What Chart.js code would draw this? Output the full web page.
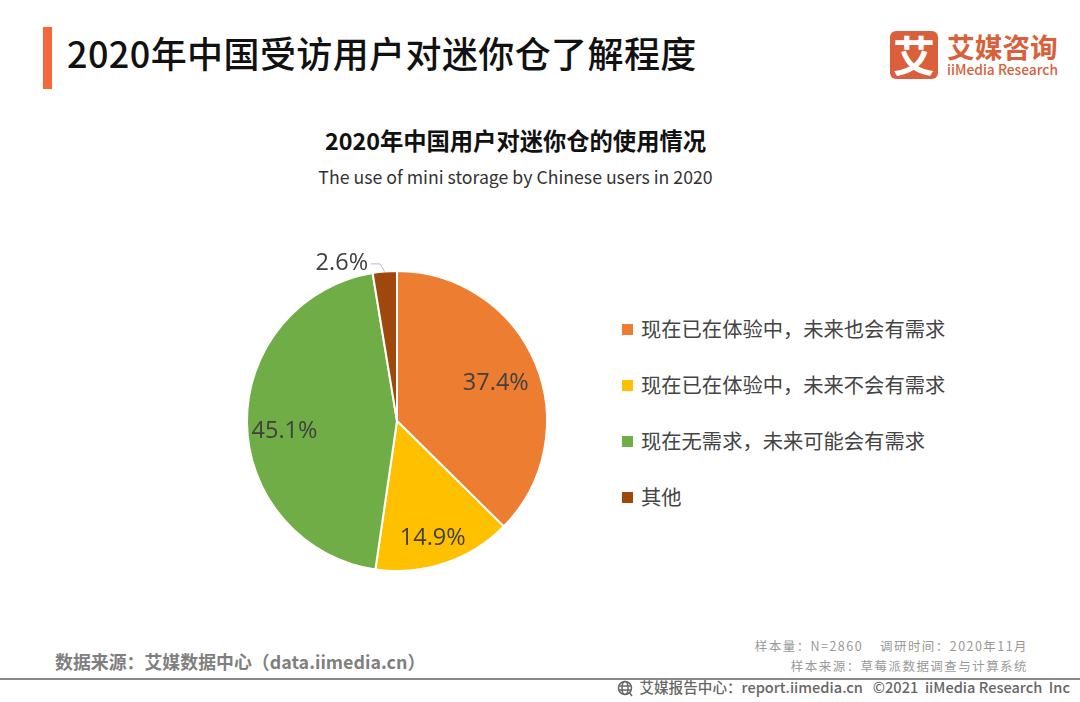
<!DOCTYPE html>
<html lang="zh-CN">
<head>
<meta charset="UTF-8">
<title>2020年中国受访用户对迷你仓了解程度</title>
<script src="https://cdn.jsdelivr.net/npm/chart.js"></script>
<style>
  html, body { margin: 0; padding: 0; background: #fff; }
  body { width: 1080px; height: 702px; position: relative; overflow: hidden; font-family: "Noto Sans CJK SC", "Noto Sans", sans-serif; }
  .t { position: absolute; white-space: nowrap; line-height: 1; }
  #bar { position: absolute; left: 43px; top: 27px; width: 9px; height: 62px; background: #F4683A; }
  #title { left: 67px; top: 34px; font-size: 36px; font-weight: 500; color: #111; letter-spacing: .4px; }
  #sub1 { left: 0; width: 1031px; text-align: center; top: 129px; font-size: 23.3px; font-weight: 700; color: #111; }
  #sub2 { left: 0; width: 1031px; text-align: center; top: 168px; font-size: 17.7px; color: #333; }
  #logoBox { position: absolute; left: 890px; top: 31px; width: 48px; height: 48px; border-radius: 6px; background: #D9603B; color: #fff; font-size: 42px; font-weight: 700; line-height: 46px; text-align: center; }
  #logoCn { left: 947px; top: 33px; font-size: 27.7px; font-weight: 700; color: #D9603B; }
  #logoEn { left: 947px; top: 63px; font-size: 13.8px; font-weight: 500; color: #D9603B; }
  #chartBox { position: absolute; left: 197px; top: 220.5px; width: 400px; height: 400px; }
  .lg { position: absolute; left: 622px; height: 20px; }
  .lg i { position: absolute; left: 0; top: 5px; width: 11px; height: 11px; }
  .lg span { position: absolute; left: 19px; top: -1px; font-size: 20.3px; line-height: 20px; color: #444; white-space: nowrap; }
  #source { left: 55px; top: 653px; font-size: 17.9px; font-weight: 700; color: #7f7f7f; }
  #meta1 { right: 52px; top: 640px; font-size: 12.5px; color: #999; letter-spacing: 1.45px; white-space: pre; }
  #meta2 { right: 52px; top: 660px; font-size: 12.5px; color: #999; letter-spacing: 1.45px; }
  #rule { position: absolute; left: 0; top: 678px; width: 1080px; height: 2px; background: #888; }
  #foot { right: 10px; top: 680px; font-size: 14.6px; font-weight: 500; color: #666; white-space: pre; }
  #globe { position: absolute; left: 617px; top: 680px; width: 17px; height: 17px; }
</style>
</head>
<body>
<div id="bar"></div>
<div class="t" id="title">2020年中国受访用户对迷你仓了解程度</div>
<div id="logoBox">艾</div>
<div class="t" id="logoCn">艾媒咨询</div>
<div class="t" id="logoEn">iiMedia Research</div>
<div class="t" id="sub1">2020年中国用户对迷你仓的使用情况</div>
<div class="t" id="sub2">The use of mini storage by Chinese users in 2020</div>
<div id="chartBox"><canvas id="pie"></canvas></div>
<div id="legend"></div>
<div class="t" id="source">数据来源：艾媒数据中心（data.iimedia.cn）</div>
<div class="t" id="meta1">样本量：N=2860    调研时间：2020年11月</div>
<div class="t" id="meta2">样本来源：草莓派数据调查与计算系统</div>
<div id="rule"></div>
<svg id="globe" viewBox="0 0 17 17" fill="none" stroke="#666" stroke-width="1.5">
  <circle cx="8" cy="8" r="6.5"/><ellipse cx="8" cy="8" rx="3" ry="6.5"/><path d="M2 6h12M2 10h12M12 12l3 4"/>
</svg>
<div class="t" id="foot">艾媒报告中心：report.iimedia.cn   ©2021  iiMedia Research  Inc</div>

<script>
const categories = ["现在已在体验中，未来也会有需求", "现在已在体验中，未来不会有需求", "现在无需求，未来可能会有需求", "其他"];
const shares = [37.4, 14.9, 45.1, 2.6];
const colors = ["#ED7D31", "#FFC000", "#70AD47", "#9E480E"];

// label nudges in px, on top of the default spot at 3/4 of the radius
const labelDx = [-5, 0, 0, -46];
const labelDy = [6, 11, 9, -46];

const legendTops = [319, 375, 431, 487];
const legendBox = document.getElementById("legend");
categories.forEach(function (name, i) {
  const row = document.createElement("div");
  row.className = "lg";
  row.style.top = legendTops[i] + "px";
  row.innerHTML = '<i style="background:' + colors[i] + '"></i><span>' + name + "</span>";
  legendBox.appendChild(row);
});

const sliceLabels = {
  id: "sliceLabels",
  afterDatasetsDraw(chart) {
    const ctx = chart.ctx;
    chart.getDatasetMeta(0).data.forEach(function (arc, i) {
      const mid = (arc.startAngle + arc.endAngle) / 2;
      const x = arc.x + Math.cos(mid) * arc.outerRadius * 0.75 + labelDx[i];
      const y = arc.y + Math.sin(mid) * arc.outerRadius * 0.75 + labelDy[i];
      if (i === 3) {
        // small slice gets a thin leader line back to the arc
        ctx.strokeStyle = "#bbb";
        ctx.lineWidth = 1;
        ctx.beginPath();
        ctx.moveTo(x + 29, y + 1);
        ctx.lineTo(x + 38, y + 1);
        ctx.lineTo(arc.x + Math.cos(mid) * arc.outerRadius, arc.y + Math.sin(mid) * arc.outerRadius);
        ctx.stroke();
      }
      ctx.fillStyle = "#404040";
      ctx.font = '23.5px "Open Sans", "Noto Sans", sans-serif';
      ctx.textAlign = "center";
      ctx.textBaseline = "middle";
      ctx.fillText(shares[i].toFixed(1) + "%", x, y);
    });
  }
};

new Chart(document.getElementById("pie"), {
  type: "pie",
  data: {
    labels: categories,
    datasets: [{
      data: shares,
      backgroundColor: colors,
      borderColor: "#fff",
      borderWidth: 2
    }]
  },
  options: {
    responsive: true,
    maintainAspectRatio: false,
    animation: false,
    radius: 150,
    plugins: { legend: { display: false }, tooltip: { enabled: false } }
  },
  plugins: [sliceLabels]
});
</script>
</body>
</html>
